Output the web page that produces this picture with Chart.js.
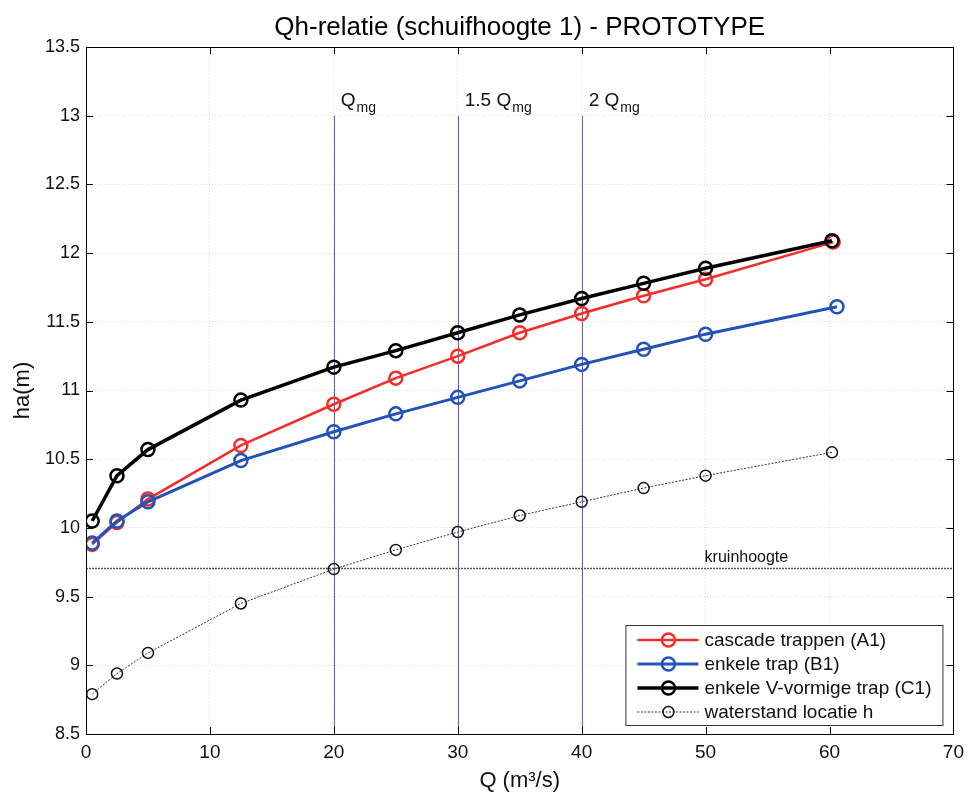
<!DOCTYPE html>
<html><head><meta charset="utf-8">
<script src="https://cdn.jsdelivr.net/npm/chart.js@4.4.1/dist/chart.umd.min.js"></script>
<style>html,body{margin:0;padding:0;background:#fff;}canvas{display:block;}</style>
</head><body>
<canvas id="c" width="971" height="794"></canvas>
<script>
// ---- data ----
const TITLE = 'Qh-relatie (schuifhoogte 1) - PROTOTYPE';
const X_TITLE = 'Q (m³/s)';
const Y_TITLE = 'ha(m)';
const SERIES_NAMES = ['cascade trappen (A1)', 'enkele trap (B1)', 'enkele V-vormige trap (C1)', 'waterstand locatie h'];
const Q_A = [0.5, 2.5, 5, 12.5, 20, 25, 30, 35, 40, 45, 50, 60.3];
const H_A = [9.88, 10.04, 10.21, 10.60, 10.90, 11.09, 11.25, 11.42, 11.56, 11.69, 11.81, 12.08];
const Q_B = [0.5, 2.5, 5, 12.5, 20, 25, 30, 35, 40, 45, 50, 60.6];
const H_B = [9.89, 10.05, 10.19, 10.49, 10.70, 10.83, 10.95, 11.07, 11.19, 11.30, 11.41, 11.61];
const Q_C = [0.5, 2.5, 5, 12.5, 20, 25, 30, 35, 40, 45, 50, 60.2];
const H_C = [10.05, 10.38, 10.57, 10.93, 11.17, 11.29, 11.42, 11.55, 11.67, 11.78, 11.89, 12.09];
const Q_H = [0.5, 2.5, 5, 12.5, 20, 25, 30, 35, 40, 45, 50, 60.2];
const H_H = [8.79, 8.94, 9.09, 9.45, 9.70, 9.84, 9.97, 10.09, 10.19, 10.29, 10.38, 10.55];
const REF_Q = [20, 30, 40];
const REF_PREFIX = ['', '1.5 ', '2 '];
const REF_MAIN = 'Q';
const REF_SUB = 'mg';
const REF_TOP = 13;
const KRUIN_H = 9.71;
const KRUIN_LABEL = 'kruinhoogte';
const KRUIN_LABEL_Q = 50;
const X_MIN = 0, X_MAX = 70, X_STEP = 10;
const Y_MIN = 8.5, Y_MAX = 13.5, Y_STEP = 0.5;

const FONT = '"Liberation Sans", Arial, Helvetica, sans-serif';
const pts = (xs, ys) => xs.map((q, i) => ({x: q, y: ys[i]}));

const styles = [
  {color: '#f22d2a', bw: 2.5, r: 6.5, pbw: 2.5, order: 3, dash: []},
  {color: '#2352b8', bw: 3, r: 6.5, pbw: 2.5, order: 2, dash: []},
  {color: '#000000', bw: 3.5, r: 6.5, pbw: 2.5, order: 1, dash: []},
  {color: '#333333', bw: 1, r: 5.5, pbw: 1.5, order: 4, dash: [2, 1.5]}
];
const dataPairs = [[Q_A, H_A], [Q_B, H_B], [Q_C, H_C], [Q_H, H_H]];
const datasets = dataPairs.map((p, i) => ({
  label: SERIES_NAMES[i],
  data: pts(p[0], p[1]),
  borderColor: styles[i].color,
  borderWidth: styles[i].bw,
  borderDash: styles[i].dash,
  pointRadius: styles[i].r,
  pointBorderWidth: styles[i].pbw,
  pointBorderColor: i === 3 ? '#111' : styles[i].color,
  pointBackgroundColor: 'rgba(0,0,0,0)',
  pointStyle: 'circle',
  order: styles[i].order,
  tension: 0,
  fill: false
}));

const decor = {
  id: 'decor',
  beforeDatasetsDraw(chart) {
    const {ctx, chartArea: a, scales: {x, y}} = chart;
    ctx.save();
    // reference lines
    ctx.strokeStyle = '#5a62c6';
    ctx.lineWidth = 1;
    REF_Q.forEach(q => {
      const px = Math.round(x.getPixelForValue(q)) + 0.5;
      ctx.beginPath();
      ctx.moveTo(px, y.getPixelForValue(REF_TOP));
      ctx.lineTo(px, a.bottom);
      ctx.stroke();
    });
    // kruinhoogte
    const ky = Math.round(y.getPixelForValue(KRUIN_H)) + 0.5;
    ctx.strokeStyle = '#555';
    ctx.lineWidth = 1.5;
    ctx.setLineDash([2, 1]);
    ctx.beginPath();
    ctx.moveTo(a.left, ky);
    ctx.lineTo(a.right, ky);
    ctx.stroke();
    ctx.setLineDash([]);
    ctx.fillStyle = '#111';
    ctx.font = '16px ' + FONT;
    ctx.textBaseline = 'alphabetic';
    ctx.textAlign = 'left';
    ctx.fillText(KRUIN_LABEL, x.getPixelForValue(KRUIN_LABEL_Q) - 1, ky - 7);
    // ref labels
    REF_Q.forEach((q, i) => {
      const px = x.getPixelForValue(q) + 7;
      const by = y.getPixelForValue(REF_TOP) - 10;
      ctx.font = '19px ' + FONT;
      const t = REF_PREFIX[i] + REF_MAIN;
      ctx.fillText(t, px, by);
      const w = ctx.measureText(t).width;
      ctx.font = '14px ' + FONT;
      ctx.fillText(REF_SUB, px + w + 1, by + 6);
    });
    ctx.restore();
  },
  afterDraw(chart) {
    const {ctx, chartArea: a, scales: {x, y}} = chart;
    ctx.save();
    // frame
    ctx.strokeStyle = '#000';
    ctx.lineWidth = 1;
    ctx.strokeRect(Math.round(a.left) + 0.5, Math.round(a.top) + 0.5, Math.round(a.right - a.left), Math.round(a.bottom - a.top));
    // inward ticks
    const TL = 7;
    ctx.beginPath();
    for (let v = X_MIN; v <= X_MAX + 1e-9; v += X_STEP) {
      const px = Math.round(x.getPixelForValue(v)) + 0.5;
      ctx.moveTo(px, a.bottom); ctx.lineTo(px, a.bottom - TL);
      ctx.moveTo(px, a.top); ctx.lineTo(px, a.top + TL);
    }
    for (let v = Y_MIN; v <= Y_MAX + 1e-9; v += Y_STEP) {
      const py = Math.round(y.getPixelForValue(v)) + 0.5;
      ctx.moveTo(a.left, py); ctx.lineTo(a.left + TL, py);
      ctx.moveTo(a.right, py); ctx.lineTo(a.right - TL, py);
    }
    ctx.stroke();
    // title
    ctx.fillStyle = '#000';
    ctx.font = '26px ' + FONT;
    ctx.textAlign = 'center';
    ctx.textBaseline = 'alphabetic';
    ctx.fillText(TITLE, (a.left + a.right) / 2, 35);
    // legend
    const bx = a.right - 328, by = a.bottom - 109, bw = 317, bh = 100;
    ctx.fillStyle = '#fff';
    ctx.fillRect(bx, by, bw, bh);
    ctx.strokeStyle = '#333';
    ctx.lineWidth = 1;
    ctx.strokeRect(bx + 0.5, by + 0.5, bw, bh);
    ctx.font = '19px ' + FONT;
    ctx.textAlign = 'left';
    ctx.textBaseline = 'middle';
    chart.data.datasets.forEach((ds, i) => {
      const ly = by + 15 + i * 24;
      const x0 = bx + 12, x1 = bx + 73, mx = bx + 43;
      ctx.strokeStyle = ds.borderColor;
      ctx.lineWidth = ds.borderWidth;
      ctx.setLineDash(ds.borderDash || []);
      ctx.beginPath(); ctx.moveTo(x0, ly); ctx.lineTo(x1, ly); ctx.stroke();
      ctx.setLineDash([]);
      ctx.strokeStyle = ds.pointBorderColor;
      ctx.lineWidth = ds.pointBorderWidth;
      ctx.beginPath(); ctx.arc(mx, ly, ds.pointRadius, 0, Math.PI * 2); ctx.stroke();
      ctx.fillStyle = '#111';
      ctx.fillText(ds.label, bx + 79, ly + 1);
    });
    ctx.restore();
  }
};

new Chart(document.getElementById('c'), {
  type: 'line',
  data: {datasets},
  plugins: [decor],
  options: {
    responsive: false,
    animation: false,
    layout: {padding: {top: 47, right: 17, bottom: 0, left: 0}},
    plugins: {legend: {display: false}, title: {display: false}, tooltip: {enabled: false}},
    scales: {
      x: {
        type: 'linear', min: X_MIN, max: X_MAX,
        ticks: {stepSize: X_STEP, color: '#111', font: {family: FONT, size: 19}, padding: 7},
        grid: {color: '#dddddd', lineWidth: 1, drawTicks: false},
        border: {display: false, dash: [1, 2]},
        title: {display: true, text: X_TITLE, color: '#111', font: {family: FONT, size: 22}, padding: {top: 2, bottom: 0}},
        afterFit(s) { s.height = 60; }
      },
      y: {
        type: 'linear', min: Y_MIN, max: Y_MAX,
        ticks: {stepSize: Y_STEP, color: '#111', font: {family: FONT, size: 18}, padding: 6,
                callback: v => String(+Number(v).toFixed(1))},
        grid: {color: '#dddddd', lineWidth: 1, drawTicks: false},
        border: {display: false, dash: [1, 2]},
        title: {display: true, text: Y_TITLE, color: '#111', font: {family: FONT, size: 22}, padding: {top: 10, bottom: 0}},
        afterFit(s) { s.width = 86; }
      }
    }
  }
});
</script>
</body></html>
